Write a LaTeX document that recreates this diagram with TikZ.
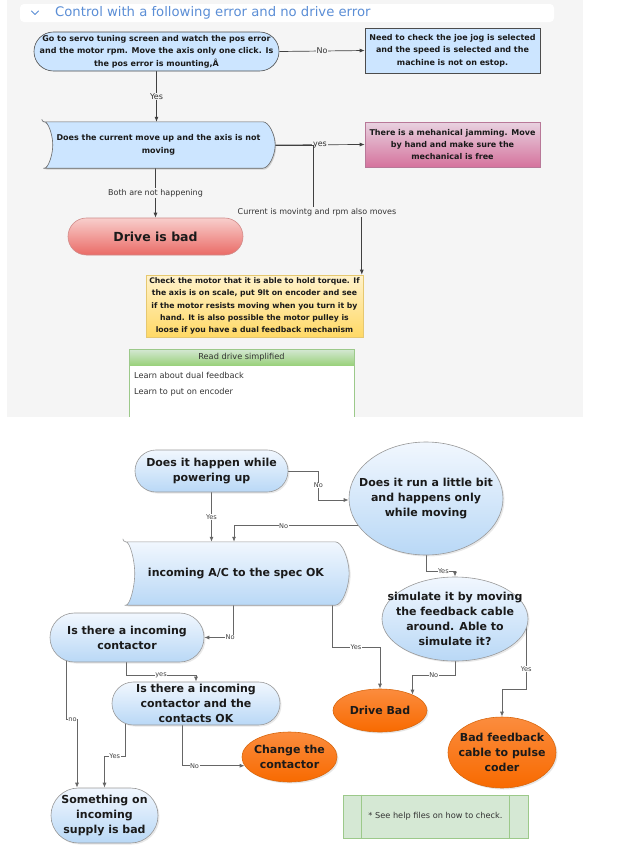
\documentclass[tikz,border=0pt]{standalone}
\usepackage{fontspec}
\setmainfont{DejaVu Sans}
\usetikzlibrary{arrows.meta,shadows,calc,shapes.geometric}
\pgfdeclarelayer{back}
\pgfdeclarelayer{edges}
\pgfdeclarelayer{shapes}
\pgfsetlayers{back,edges,shapes,main}
\definecolor{bggray}{HTML}{F5F5F5}
\definecolor{hdrblue}{HTML}{5B8ED6}
\definecolor{lblue}{HTML}{CCE5FF}
\definecolor{glT}{HTML}{F1F7FE}
\definecolor{glB}{HTML}{B9D8F6}
\definecolor{pinkT}{HTML}{E8D2E0}
\definecolor{pinkB}{HTML}{D5739D}
\definecolor{pinkD}{HTML}{B87898}
\definecolor{redT}{HTML}{F8CECC}
\definecolor{redB}{HTML}{EA6B66}
\definecolor{redD}{HTML}{D08A88}
\definecolor{yelT}{HTML}{FFF2CC}
\definecolor{yelB}{HTML}{FFD966}
\definecolor{yelD}{HTML}{E6C870}
\definecolor{grnF}{HTML}{D5E8D4}
\definecolor{grnB}{HTML}{97D077}
\definecolor{grnD}{HTML}{9CC98A}
\definecolor{orgT}{HTML}{FB8C3E}
\definecolor{orgB}{HTML}{F86A00}
\definecolor{orgD}{HTML}{D9680F}
\definecolor{txt}{HTML}{1A1A1A}
% #1 node, #2 left depth, #3 right depth, #4 style
\newcommand\tapepath[4]{%
  \path[#4] (#1.north west) -- ($(#1.north east)+(-#3,0)$)
   .. controls ($(#1.north east)+(-{0.4*#3},0)$) and ($(#1.north east)!0.55!(#1.east)+(-{0.05*#3},0)$) .. (#1.east)
   .. controls ($(#1.south east)!0.55!(#1.east)+(-{0.05*#3},0)$) and ($(#1.south east)+(-{0.4*#3},0)$) .. ($(#1.south east)+(-#3,0)$)
   -- (#1.south west)
   .. controls ($(#1.south west)+({0.6*#2},0)$) and ($(#1.south west)!0.55!(#1.west)+({0.95*#2},0)$) .. ($(#1.west)+(#2,0)$)
   .. controls ($(#1.north west)!0.55!(#1.west)+({0.95*#2},0)$) and ($(#1.north west)+({0.6*#2},0)$) .. (#1.north west) -- cycle;}
\tikzset{
  small/.style={font=\bfseries\fontsize{8}{12.4}\selectfont, align=center, inner sep=0pt, text=txt},
  big/.style={font=\bfseries\fontsize{11}{15}\selectfont, align=center, inner sep=0pt, text=txt},
  tlbl/.style={font=\fontsize{8}{9}\selectfont, fill=bggray, inner sep=0.8pt, text=black!80},
  elbl/.style={font=\fontsize{6.6}{8}\selectfont, fill=white, inner sep=0.5pt, text=black!75},
  tarr/.style={draw=black!75, line width=0.7pt, -{Latex[length=5pt,width=4pt]}},
  barr/.style={draw=black!60, line width=0.8pt, -{Latex[length=5pt,width=4pt]}},
  box/.style={rectangle, inner sep=0pt},
  topblue/.style={box, draw=black!70, line width=0.6pt, fill=lblue},
  glassblue/.style={draw=black!40, line width=0.6pt, top color=glT, bottom color=glB,
     drop shadow={opacity=0.18, shadow xshift=1.5pt, shadow yshift=-1.5pt}},
  glassorange/.style={draw=orgD, line width=0.6pt, top color=orgT, bottom color=orgB,
     drop shadow={opacity=0.2, shadow xshift=1.5pt, shadow yshift=-1.5pt}},
  ell/.style={ellipse, inner sep=0pt},
  paneltext/.style={font=\fontsize{8.2}{9}\selectfont, text=black!80, inner sep=0pt},
}
\begin{document}
\begin{tikzpicture}[x=1pt,y=-1pt]
\useasboundingbox (0,0) rectangle (622,852);
\begin{pgfonlayer}{back}
\fill[bggray] (7,0) rectangle (583,417);
\end{pgfonlayer}
% header
\fill[white, rounded corners=4pt] (20,4) rectangle (554,22);
\draw[hdrblue, line width=0.8pt, line cap=round, line join=round] (31.5,11) -- (35,14.5) -- (38.5,11);
\node[anchor=west, inner sep=0pt, font=\fontsize{13.2}{14}\selectfont, text=hdrblue] (htxt) at (55,13) {Control with a following error and no drive error};

% ---------- top flowchart ----------
\node[topblue, rounded corners=19.4pt, minimum width=245, minimum height=39,
  label={[small]center:Go to servo tuning screen and watch the pos error\\and the motor rpm. Move the axis only one click. Is\\the pos error is mounting,Â}] (n1) at (156.5,51.5) {};
\node[topblue, minimum width=175, minimum height=45,
  label={[small]center:Need to check the joe jog is selected\\and the speed is selected and the\\machine is not on estop.}] (n2) at (452.5,50.5) {};
\node[box, minimum width=233, minimum height=46,
  label={[small]center:Does the current move up and the axis is not\\moving}] (n3) at (158.5,145) {};
\begin{pgfonlayer}{shapes}
\tapepath{n3}{11}{15}{draw=black!60, line width=0.6pt, fill=lblue, rounded corners=2.5pt, drop shadow={opacity=0.3, shadow xshift=1pt, shadow yshift=-1.5pt}}
\end{pgfonlayer}
\node[box, draw=pinkD, line width=0.6pt, top color=pinkT, bottom color=pinkB, minimum width=175, minimum height=45,
  label={[small]center:There is a mehanical jamming. Move\\by hand and make sure the\\mechanical is free}] (n4) at (452.5,144.5) {};
\node[box, draw=redD, line width=0.6pt, top color=redT, bottom color=redB, rounded corners=18.4pt, minimum width=175, minimum height=37,
  label={[font=\bfseries\fontsize{12.5}{14}\selectfont, text=txt, inner sep=0pt]center:Drive is bad}] (n5) at (155.5,236.5) {};
\node[box, draw=yelD, line width=0.6pt, top color=yelT, bottom color=yelB, minimum width=217, minimum height=62,
  label={[font=\bfseries\fontsize{7.7}{12.3}\selectfont, align=center, inner sep=0pt, text=txt]center:Check the motor that it is able to hold torque. If\\the axis is on scale, put 9lt on encoder and see\\if the motor resists moving when you turn it by\\hand. It is also possible the motor pulley is\\loose if you have a dual feedback mechanism}] (n6) at (254.5,306) {};
% green panel
\node[box, draw=grnD, line width=0.6pt, top color=grnF, bottom color=grnB, minimum width=225, minimum height=17,
  label={[paneltext]center:Read drive simplified}] (gh) at (241.5,357.5) {};
\fill[white] (129.3,366) rectangle (353.7,417);
\draw[grnD, line width=0.7pt] (129,417) |- (354,349) -- (354,417);
\node[paneltext, anchor=west] (l1) at (134,375) {Learn about dual feedback};
\node[paneltext, anchor=west] (l2) at (134,392) {Learn to put on encoder};

\begin{pgfonlayer}{edges}
\draw[tarr] (n1.east) -- node[tlbl]{No} (n2.west);
\draw[tarr] (n1.south) -- node[tlbl]{Yes} (n1.south |- n3.north);
\draw[tarr] (n3.east) -- node[tlbl, pos=0.5]{yes} (n4.west);
\coordinate (lc) at (317,212);
\draw[tarr] (n3.east) -- ++(38,0) |- (lc) -| ([xshift=-1.5pt]n6.north east);
\node[tlbl] (lct) at (lc) {Current is movintg and rpm also moves};
\draw[tarr] (n5.north |- n3.south) -- node[tlbl]{Both are not happening} (n5.north);
\end{pgfonlayer}

% ---------- bottom flowchart ----------
\node[box, glassblue, rounded corners=20.9pt, minimum width=153, minimum height=42,
  label={[big]center:Does it happen while\\powering up}] (A) at (211.5,471) {};
\node[ell, glassblue, minimum width=154, minimum height=113,
  label={[big]center:Does it run a little bit\\and happens only\\while moving}] (B) at (426,498.5) {};
\node[box, minimum width=226, minimum height=63,
  label={[big]center:incoming A/C to the spec OK}] (C) at (236,573.5) {};
\begin{pgfonlayer}{shapes}
\tapepath{C}{12}{17}{glassblue, rounded corners=3pt}
\end{pgfonlayer}
\node[box, glassblue, rounded corners=24.4pt, minimum width=154, minimum height=49,
  label={[big]center:Is there a incoming\\contactor}] (D) at (127,637.5) {};
\node[box, glassblue, rounded corners=21.4pt, minimum width=168, minimum height=43,
  label={[big]center:Is there a incoming\\contactor and the\\contacts OK}] (H) at (196,703.5) {};
\node[ell, glassorange, minimum width=95, minimum height=50,
  label={[big]center:Change the\\contactor}] (I) at (289.5,757) {};
\node[box, glassblue, rounded corners=27.4pt, minimum width=107, minimum height=55,
  label={[big]center:Something on\\incoming\\supply is bad}] (J) at (104.5,815.5) {};
\node[ell, glassblue, minimum width=146, minimum height=84,
  label={[big]center:simulate it by moving\\the feedback cable\\around. Able to\\simulate it?}] (E) at (455,619) {};
\node[ell, glassorange, minimum width=94, minimum height=43,
  label={[big]center:Drive Bad}] (F) at (380,710.5) {};
\node[ell, glassorange, minimum width=108, minimum height=71,
  label={[big]center:Bad feedback\\cable to pulse\\coder}] (G) at (502,752.5) {};
\node[box, draw=grnD, line width=0.7pt, fill=grnF, minimum width=185, minimum height=43,
  label={[paneltext]center:* See help files on how to check.}] (K) at (435.5,816.5) {};
\draw[grnD, line width=0.7pt] ([xshift=19pt]K.north west) -- ([xshift=19pt]K.south west)
  ([xshift=-19pt]K.north east) -- ([xshift=-19pt]K.south east);

\begin{pgfonlayer}{edges}
\draw[barr] (A.east) -- ++(30,0) |- node[elbl, pos=0.25]{No} ([yshift=-1.5pt]B.west);
\draw[barr] (A.south) -- node[elbl]{Yes} (A.south |- C.north);
\draw[barr] (B.202) -| node[elbl, pos=0.3]{No} ([xshift=-2pt]C.north);
\draw[barr] (B.south) -- ++(0,16) -| node[elbl, pos=0.3]{Yes} (E.north);
\draw[barr] ([xshift=-3pt]C.south) |- node[elbl, pos=0.55]{No} (D.east);
\draw[barr] ([xshift=96pt]C.south) -- ++(0,42) -| node[elbl, pos=0.25]{Yes} (F.north);
\draw[barr] ([xshift=-1pt]D.south) -- ++(0,13) -| node[elbl, pos=0.25]{yes} (H.north);
\draw[barr] ([xshift=-61pt,yshift=2pt]D.south) -- ++(0,59) -| node[elbl, pos=0.3]{no} ([xshift=-27.5pt]J.north);
\draw[barr] ([xshift=-71pt,yshift=3pt]H.south) -- ++(0,34) -| node[elbl, pos=0.25]{Yes} (J.north);
\draw[barr] ([xshift=-14pt,yshift=2pt]H.south) |- node[elbl, pos=0.6]{No} (I.191);
\draw[barr] (E.south) -- ++(0,14) -| node[elbl, pos=0.25]{No} (F.26);
\draw[barr] ([xshift=-2pt,yshift=-8pt]E.east) -- node[elbl, pos=0.68]{Yes} ++(0,62) -| (G.north);
\end{pgfonlayer}
\end{tikzpicture}
\end{document}
